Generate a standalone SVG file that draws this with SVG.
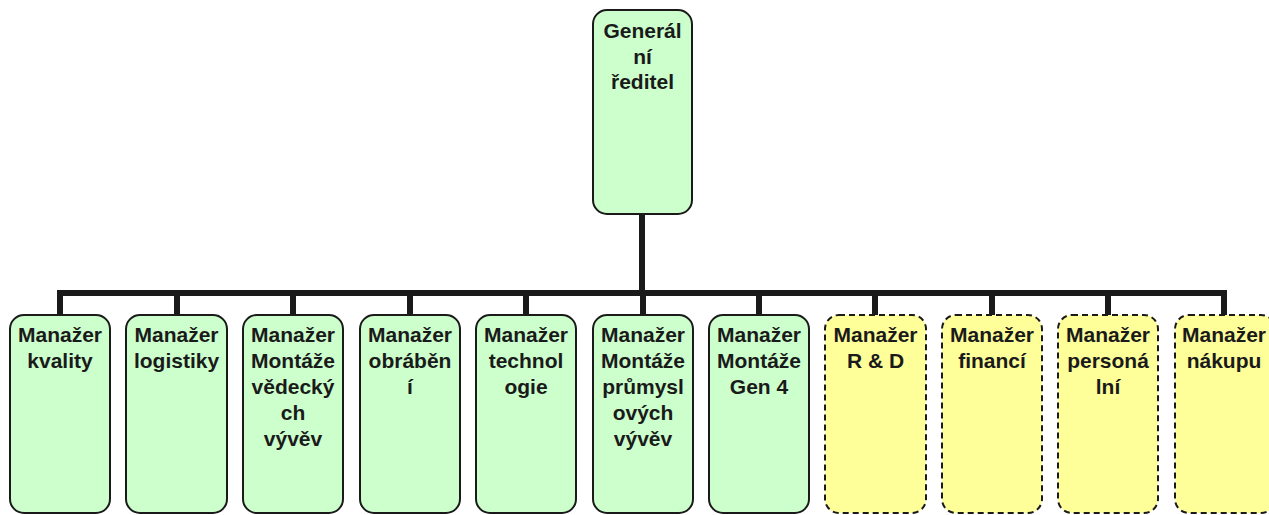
<svg xmlns="http://www.w3.org/2000/svg" width="1269" height="515" viewBox="0 0 1269 515">
  <style>
    .box { stroke: #1a1a1a; stroke-width: 2; }
    .green { fill: #ccffcc; }
    .yellow { fill: #ffff99; stroke-dasharray: 6 4; }
    .lbl { font-family: "Liberation Sans", Arial, sans-serif; font-weight: bold; font-size: 21px; fill: #1a1a1a; text-anchor: middle; }
    .conn { stroke: #1a1a1a; stroke-width: 6; fill: none; }
  </style>

  <!-- connectors -->
  <g id="connectors">
    <line class="conn" x1="642" y1="214" x2="642" y2="293"/>
    <line class="conn" x1="57" y1="293" x2="1227" y2="293"/>
    <line class="conn" x1="60" y1="293" x2="60" y2="315"/>
    <line class="conn" x1="177" y1="293" x2="177" y2="315"/>
    <line class="conn" x1="293" y1="293" x2="293" y2="315"/>
    <line class="conn" x1="410" y1="293" x2="410" y2="315"/>
    <line class="conn" x1="526" y1="293" x2="526" y2="315"/>
    <line class="conn" x1="643" y1="293" x2="643" y2="315"/>
    <line class="conn" x1="759" y1="293" x2="759" y2="315"/>
    <line class="conn" x1="875" y1="293" x2="875" y2="315"/>
    <line class="conn" x1="992" y1="293" x2="992" y2="315"/>
    <line class="conn" x1="1108" y1="293" x2="1108" y2="315"/>
    <line class="conn" x1="1224" y1="293" x2="1224" y2="315"/>
  </g>

  <!-- top node -->
  <g id="n-generalni-reditel">
    <rect class="box green" x="593" y="10" width="99" height="204" rx="14"/>
    <text class="lbl" x="642.5" y="38">Generál</text>
    <text class="lbl" x="642.5" y="63.5">ní</text>
    <text class="lbl" x="642.5" y="89">ředitel</text>
  </g>

  <!-- second level -->
  <g id="n-kvalita">
    <rect class="box green" x="10" y="315" width="100" height="198" rx="14"/>
    <text class="lbl" x="60" y="342">Manažer</text>
    <text class="lbl" x="60" y="368">kvality</text>
  </g>
  <g id="n-logistika">
    <rect class="box green" x="126" y="315" width="101" height="198" rx="14"/>
    <text class="lbl" x="176.5" y="342">Manažer</text>
    <text class="lbl" x="176.5" y="368">logistiky</text>
  </g>
  <g id="n-montaze-vedecke">
    <rect class="box green" x="243" y="315" width="100" height="198" rx="14"/>
    <text class="lbl" x="293" y="342">Manažer</text>
    <text class="lbl" x="293" y="368">Montáže</text>
    <text class="lbl" x="293" y="394">vědecký</text>
    <text class="lbl" x="293" y="420">ch</text>
    <text class="lbl" x="293" y="446">vývěv</text>
  </g>
  <g id="n-obrabeni">
    <rect class="box green" x="360" y="315" width="100" height="198" rx="14"/>
    <text class="lbl" x="410" y="342">Manažer</text>
    <text class="lbl" x="410" y="368">obráběn</text>
    <text class="lbl" x="410" y="394">í</text>
  </g>
  <g id="n-technologie">
    <rect class="box green" x="476" y="315" width="100" height="198" rx="14"/>
    <text class="lbl" x="526" y="342">Manažer</text>
    <text class="lbl" x="526" y="368">technol</text>
    <text class="lbl" x="526" y="394">ogie</text>
  </g>
  <g id="n-montaze-prumyslove">
    <rect class="box green" x="593" y="315" width="100" height="198" rx="14"/>
    <text class="lbl" x="643" y="342">Manažer</text>
    <text class="lbl" x="643" y="368">Montáže</text>
    <text class="lbl" x="643" y="394">průmysl</text>
    <text class="lbl" x="643" y="420">ových</text>
    <text class="lbl" x="643" y="446">vývěv</text>
  </g>
  <g id="n-montaze-gen4">
    <rect class="box green" x="709" y="315" width="100" height="198" rx="14"/>
    <text class="lbl" x="759" y="342">Manažer</text>
    <text class="lbl" x="759" y="368">Montáže</text>
    <text class="lbl" x="759" y="394">Gen 4</text>
  </g>
  <g id="n-rd">
    <rect class="box yellow" x="825" y="315" width="101" height="198" rx="14"/>
    <text class="lbl" x="875.5" y="342">Manažer</text>
    <text class="lbl" x="875.5" y="368">R &amp; D</text>
  </g>
  <g id="n-finance">
    <rect class="box yellow" x="942" y="315" width="100" height="198" rx="14"/>
    <text class="lbl" x="992" y="342">Manažer</text>
    <text class="lbl" x="992" y="368">financí</text>
  </g>
  <g id="n-personalni">
    <rect class="box yellow" x="1058" y="315" width="100" height="198" rx="14"/>
    <text class="lbl" x="1108" y="342">Manažer</text>
    <text class="lbl" x="1108" y="368">personá</text>
    <text class="lbl" x="1108" y="394">lní</text>
  </g>
  <g id="n-nakup">
    <rect class="box yellow" x="1175" y="315" width="100" height="198" rx="14"/>
    <text class="lbl" x="1224" y="342">Manažer</text>
    <text class="lbl" x="1224" y="368">nákupu</text>
  </g>
</svg>
